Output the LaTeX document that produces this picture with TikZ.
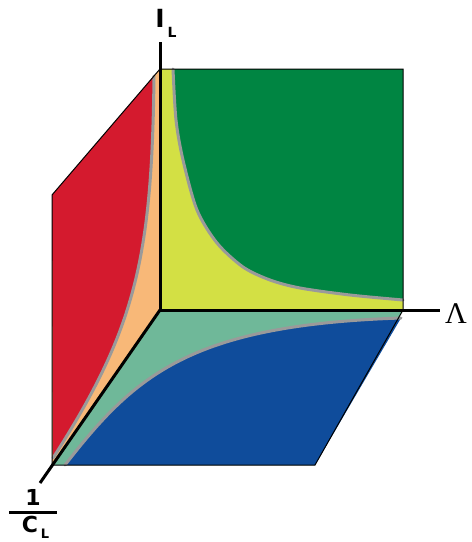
\documentclass[tikz,border=0pt]{standalone}
\usepackage{fontspec}
\newfontfamily\axisfont{DejaVu Sans}
\newfontfamily\lamfont{Liberation Serif}
\usetikzlibrary{calc,positioning}

\definecolor{wallred}{HTML}{D41A2E}
\definecolor{wallorange}{HTML}{F8B878}
\definecolor{walllime}{HTML}{D3E044}
\definecolor{wallgreen}{HTML}{008542}
\definecolor{floorteal}{HTML}{6FB899}
\definecolor{floorblue}{HTML}{0F4C9B}
\definecolor{bordergray}{HTML}{9A9A9A}

\tikzset{
    axis/.style={line width=3pt, line cap=butt},
    edge/.style={line width=1pt, line join=miter},
    border/.style={bordergray, line width=3pt, line cap=round},
    biglabel/.style={inner sep=0pt, font=\axisfont\bfseries\fontsize{24}{26}\selectfont},
    sublabel/.style={inner sep=0pt, font=\axisfont\bfseries\fontsize{14}{16}\selectfont}
}

\begin{document}
\begin{tikzpicture}[x=1pt, y=-1pt]
    \useasboundingbox (0,0) rectangle (472,542);

    % corners of the box
    \coordinate (O) at (160,310);
    \coordinate (backTL) at (160,69);
    \coordinate (backTR) at (403,69);
    \coordinate (backBR) at (403,310);
    \coordinate (leftT) at (52,195);
    \coordinate (leftB) at (52,465);
    \coordinate (floorR) at (315,465);

    % back wall
    \fill [walllime] (backTL) rectangle (backBR);
    \fill [wallgreen] plot [smooth] coordinates {(173,69) (176,120) (183,160) (197,210) (217,243) (243,267) (270,280) (300,288) (350,295) (403,300)} -- (backTR) -- cycle;
    \draw [border] plot [smooth] coordinates {(173,69) (176,120) (183,160) (197,210) (217,243) (243,267) (270,280) (300,288) (350,295) (403,300)};

    % left wall
    \fill [wallorange] (backTL) -- (leftT) -- (leftB) -- (O) -- cycle;
    \fill [wallred] (154,76) .. controls (152,260) and (135,330) .. (53,458) -- (leftT) -- cycle;
    \draw [border] (154,76) .. controls (152,260) and (135,330) .. (53,458);

    % floor
    \fill [floorteal] (O) -- (backBR) -- (floorR) -- (leftB) -- cycle;
    \fill [floorblue] (65,465) .. controls (135,375) and (190,325) .. (401,318) -- (floorR) -- cycle;
    \draw [border] (65,465) .. controls (135,375) and (190,325) .. (401,318);

    % outlines
    \draw [edge] (backTL) -- (backTR) -- (backBR) -- (floorR) -- (leftB) -- (leftT) -- cycle;

    % axes
    \coordinate (IL) at (160,42);
    \coordinate (LA) at (440,310);
    \coordinate (CL) at (40,483);
    \draw [axis] (O) -- (IL);
    \draw [axis] (O) -- (LA);
    \draw [axis] (O) -- (CL);

    \node [biglabel, font=\axisfont\bfseries\fontsize{25}{26}\selectfont] (ilabel) at (160,18) {I};
    \node [sublabel] (ilsub) at (172,32) {L};
    \node [inner sep=0pt, font=\lamfont\fontsize{30}{32}\selectfont] (lambda) at (456,314) {Λ};
    \node [biglabel, font=\axisfont\bfseries\fontsize{22}{24}\selectfont] (one) at (33,497) {1};
    \node [biglabel, font=\axisfont\bfseries\fontsize{22}{24}\selectfont] (cee) at (30,524) {C};
    \node [sublabel, font=\axisfont\bfseries\fontsize{13}{14}\selectfont] (ceesub) at (45,534) {L};
    \coordinate (barL) at (9,512);
    \coordinate (barR) at (57,512);
    \draw [line width=3pt] (barL) -- (barR);
\end{tikzpicture}
\end{document}
